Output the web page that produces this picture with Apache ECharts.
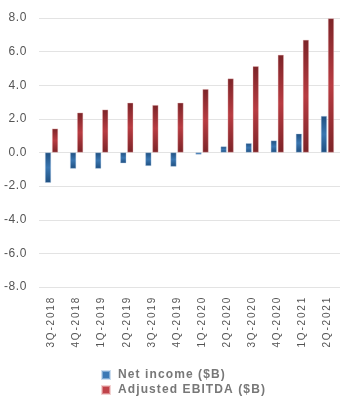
<!DOCTYPE html>
<html>
<head>
<meta charset="utf-8">
<script src="https://cdn.jsdelivr.net/npm/echarts@6/dist/echarts.min.js"></script>
<style>
  html, body { margin: 0; padding: 0; background: #fff; }
  #chart { width: 360px; height: 406px; }
</style>
</head>
<body>
<div id="chart"></div>
<script>
const categories = ['3Q-2018','4Q-2018','1Q-2019','2Q-2019','3Q-2019','4Q-2019','1Q-2020','2Q-2020','3Q-2020','4Q-2020','1Q-2021','2Q-2021'];
const netIncome = [-1.80, -0.96, -0.96, -0.64, -0.80, -0.84, -0.12, 0.36, 0.55, 0.71, 1.12, 2.17];
const adjustedEbitda = [1.42, 2.37, 2.55, 2.96, 2.82, 2.96, 3.77, 4.40, 5.13, 5.81, 6.70, 7.98];
const seriesNames = ['Net income ($B)', 'Adjusted EBITDA ($B)'];
const yTicks = { min: -8, max: 8, interval: 2 };

const FONT = '"Liberation Sans", Arial, sans-serif';

// spaced-out lettering, as in the reference (drawing only; layout uses natural widths)
(function () {
  const P = CanvasRenderingContext2D.prototype;
  const spacing = f => /bold|700/.test(f) ? '1.1px' : (/\b10px/.test(f) ? '1.8px' : '0.6px');
  const of = P.fillText;
  P.fillText = function (...a) {
    let prev;
    try { prev = this.letterSpacing; this.letterSpacing = spacing(this.font); } catch (e) {}
    const r = of.apply(this, a);
    try { this.letterSpacing = prev || '0px'; } catch (e) {}
    return r;
  };
})();

function grad(dark, light) {
  return new echarts.graphic.LinearGradient(0, 0, 0, 1, [
    { offset: 0, color: dark },
    { offset: 0.5, color: light },
    { offset: 1, color: dark }
  ]);
}

const el = document.getElementById('chart');
const chart = echarts.init(el, null, { renderer: 'canvas' });
chart.setOption({
  animation: false,
  backgroundColor: '#fff',
  grid: { left: 39, right: 20, top: 18, bottom: 119, containLabel: false },
  legend: {
    orient: 'vertical',
    left: 101,
    top: 369,
    padding: 0,
    itemWidth: 8,
    itemHeight: 8,
    itemGap: 3,
    icon: 'rect',
    textStyle: { fontFamily: FONT, fontSize: 12, fontWeight: 'bold', color: '#777', padding: [0, 0, 0, 3] },
    data: [
      { name: seriesNames[0], itemStyle: { color: '#3a78b5' } },
      { name: seriesNames[1], itemStyle: { color: '#c0434a' } }
    ]
  },
  xAxis: {
    type: 'category',
    data: categories,
    axisLine: { show: false, onZero: false },
    axisTick: { show: false },
    axisLabel: { rotate: 90, margin: 9, interval: 0, fontFamily: FONT, fontSize: 10, color: '#555' }
  },
  yAxis: {
    type: 'value',
    min: yTicks.min, max: yTicks.max, interval: yTicks.interval,
    axisLine: { show: false }, axisTick: { show: false },
    splitLine: { lineStyle: { color: '#e3e3e3', width: 1 } },
    axisLabel: { margin: 12, fontFamily: FONT, fontSize: 12, color: '#555', formatter: v => v.toFixed(1) }
  },
  series: [
    { name: seriesNames[0], type: 'bar', data: netIncome, barWidth: 6, barGap: '17%',
      itemStyle: { color: grad('#1f4f80', '#3a76b0'), borderColor: 'rgba(170,200,230,0.6)', borderWidth: 0.6 } },
    { name: seriesNames[1], type: 'bar', data: adjustedEbitda, barWidth: 6,
      itemStyle: { color: grad('#7c2428', '#b83c42'), borderColor: 'rgba(235,180,180,0.6)', borderWidth: 0.6 } }
  ]
});
</script>
</body>
</html>
